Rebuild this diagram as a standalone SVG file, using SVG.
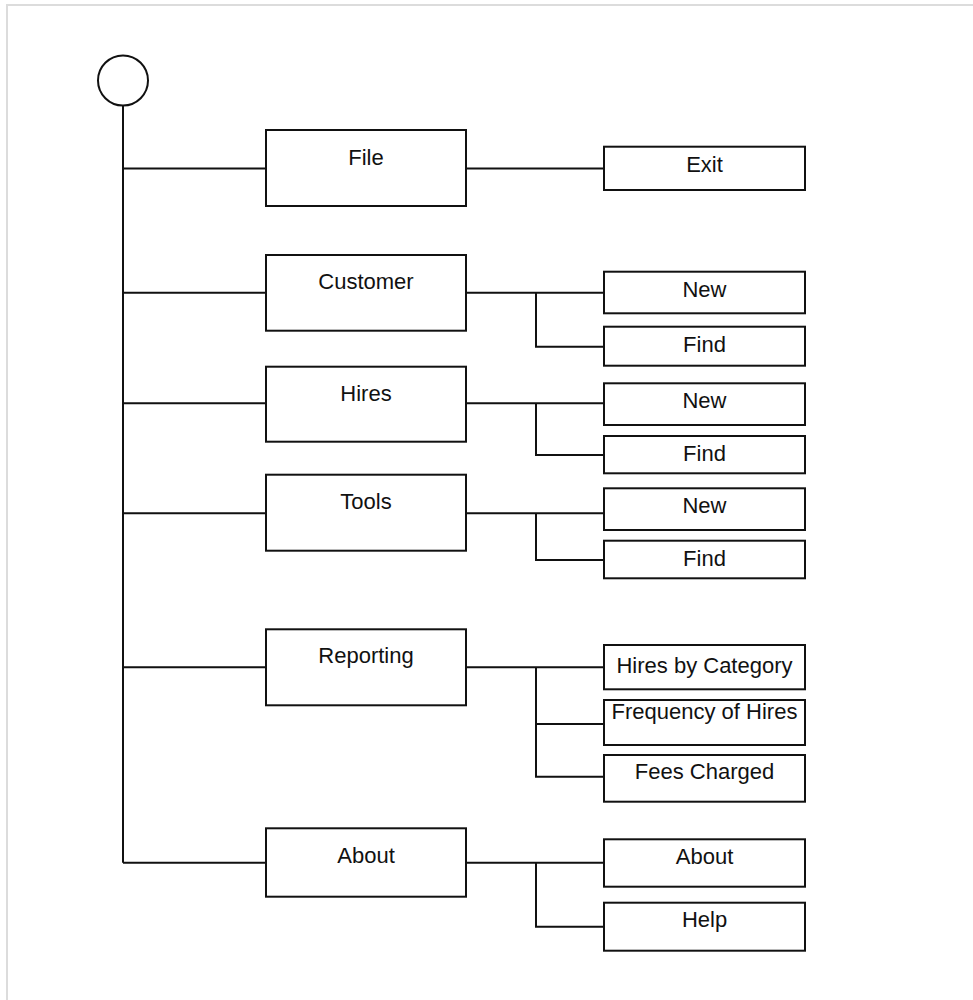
<svg xmlns="http://www.w3.org/2000/svg" width="973" height="1000" viewBox="0 0 973 1000">
<style>
.box{fill:#fff;stroke:#111;stroke-width:2}
.ln{fill:none;stroke:#111;stroke-width:2}
.t{font-family:"Liberation Sans",Arial,sans-serif;font-size:22px;fill:#111;text-anchor:middle}
</style>
<rect x="0" y="0" width="973" height="1000" fill="#fff"/>
<rect x="7" y="5" width="1000" height="1000" fill="none" stroke="#dcdcdc" stroke-width="2"/>
<g id="connectors" class="ln">
<path d="M123 105.5V862.7"/>
<path d="M123 168.5H266M123 292.7H266M123 403.3H266M123 513.3H266M123 667.3H266M123 862.7H266"/>
<path d="M466 168.5H604"/>
<path d="M466 292.7H604M536 292.7V346.7H604"/>
<path d="M466 403.3H604M536 403.3V455H604"/>
<path d="M466 513.3H604M536 513.3V560H604"/>
<path d="M466 667.3H604M536 667.3V776.7H604M536 724H604"/>
<path d="M466 862.7H604M536 862.7V926.7H604"/>
</g>
<g id="root"><circle cx="123" cy="80.5" r="25" fill="#fff" stroke="#111" stroke-width="2"/></g>
<g id="file"><rect class="box" x="266" y="130" width="200" height="76"/><text class="t" x="366" y="165">File</text></g>
<g id="customer"><rect class="box" x="266" y="255" width="200" height="75.7"/><text class="t" x="366" y="289">Customer</text></g>
<g id="hires"><rect class="box" x="266" y="366.7" width="200" height="75"/><text class="t" x="366" y="401">Hires</text></g>
<g id="tools"><rect class="box" x="266" y="474.7" width="200" height="76"/><text class="t" x="366" y="509">Tools</text></g>
<g id="reporting"><rect class="box" x="266" y="629.3" width="200" height="76"/><text class="t" x="366" y="663">Reporting</text></g>
<g id="about"><rect class="box" x="266" y="828.3" width="200" height="68.4"/><text class="t" x="366" y="863">About</text></g>
<g id="file-exit"><rect class="box" x="604" y="146.7" width="201" height="43.3"/><text class="t" x="704.5" y="171.5">Exit</text></g>
<g id="customer-new"><rect class="box" x="604" y="271.7" width="201" height="41.6"/><text class="t" x="704.5" y="296.5">New</text></g>
<g id="customer-find"><rect class="box" x="604" y="326.7" width="201" height="39"/><text class="t" x="704.5" y="351.5">Find</text></g>
<g id="hires-new"><rect class="box" x="604" y="383.3" width="201" height="41.7"/><text class="t" x="704.5" y="408">New</text></g>
<g id="hires-find"><rect class="box" x="604" y="436" width="201" height="37.3"/><text class="t" x="704.5" y="460.5">Find</text></g>
<g id="tools-new"><rect class="box" x="604" y="488.3" width="201" height="41.7"/><text class="t" x="704.5" y="513">New</text></g>
<g id="tools-find"><rect class="box" x="604" y="540.7" width="201" height="37.6"/><text class="t" x="704.5" y="565.5">Find</text></g>
<g id="rep-category"><rect class="box" x="604" y="645" width="201" height="44.3"/><text class="t" x="704.5" y="673">Hires by Category</text></g>
<g id="rep-frequency"><rect class="box" x="604" y="700" width="201" height="45"/><text class="t" x="704.5" y="719">Frequency of Hires</text></g>
<g id="rep-fees"><rect class="box" x="604" y="755" width="201" height="46.7"/><text class="t" x="704.5" y="779">Fees Charged</text></g>
<g id="about-about"><rect class="box" x="604" y="839.3" width="201" height="47.4"/><text class="t" x="704.5" y="864">About</text></g>
<g id="about-help"><rect class="box" x="604" y="902.7" width="201" height="48"/><text class="t" x="704.5" y="927">Help</text></g>
</svg>
